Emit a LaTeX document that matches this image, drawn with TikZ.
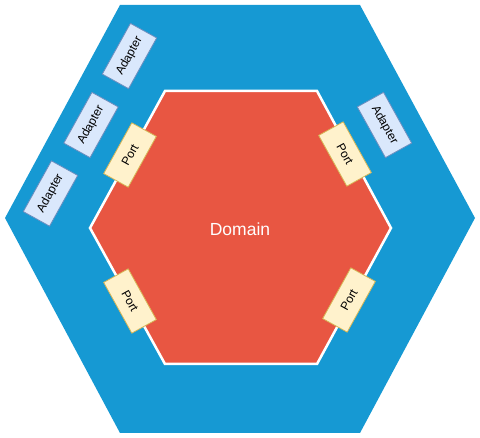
\documentclass[tikz,border=0pt]{standalone}
\usepackage{fontspec}
\setmainfont{Liberation Sans}
\definecolor{hexblue}{HTML}{1699D3}
\definecolor{domred}{HTML}{E85642}
\definecolor{portfill}{HTML}{FFF2CC}
\definecolor{portline}{HTML}{D6B656}
\definecolor{adfill}{HTML}{DAE8FC}
\definecolor{adline}{HTML}{6C8EBF}

\begin{document}
\begin{tikzpicture}[
  x=1pt, y=-1pt,
  port/.style={draw=portline, fill=portfill, line width=0.8pt,
    minimum width=58pt, minimum height=28pt, inner sep=0pt,
    font=\fontsize{12}{14}\selectfont},
  adapter/.style={draw=adline, fill=adfill, line width=0.8pt,
    minimum width=58pt, minimum height=30pt, inner sep=0pt,
    font=\fontsize{12}{14}\selectfont},
]
\useasboundingbox (0,0) rectangle (480,438);

% Outer hexagon (adapters layer)
\fill[hexblue] (5,218) -- (120,5) -- (360,5) -- (475,218)
  -- (360,433) -- (120,433) -- cycle;

% Inner hexagon (domain)
\draw[white, line width=2.5pt, fill=domred] (90,228) -- (165,91)
  -- (317,91) -- (391,228) -- (317,364) -- (165,364) -- cycle;
\node[text=white, font=\fontsize{17.5}{20}\selectfont] (domain) at (240,229) {Domain};

% ========================================
% Ports
% ========================================
\node[port, rotate=61]  (portTL) at (130,155) {Port};
\node[port, rotate=-61] (portTR) at (345,154) {Port};
\node[port, rotate=-61] (portBL) at (130,301) {Port};
\node[port, rotate=61]  (portBR) at (349,300) {Port};

% ========================================
% Adapters
% ========================================
\node[adapter, rotate=61]  (adA) at (129.5,56)   {Adapter};
\node[adapter, rotate=61]  (adB) at (91,125)     {Adapter};
\node[adapter, rotate=61]  (adC) at (50.5,193.5) {Adapter};
\node[adapter, rotate=-61] (adD) at (384.5,125)  {Adapter};

\end{tikzpicture}
\end{document}
